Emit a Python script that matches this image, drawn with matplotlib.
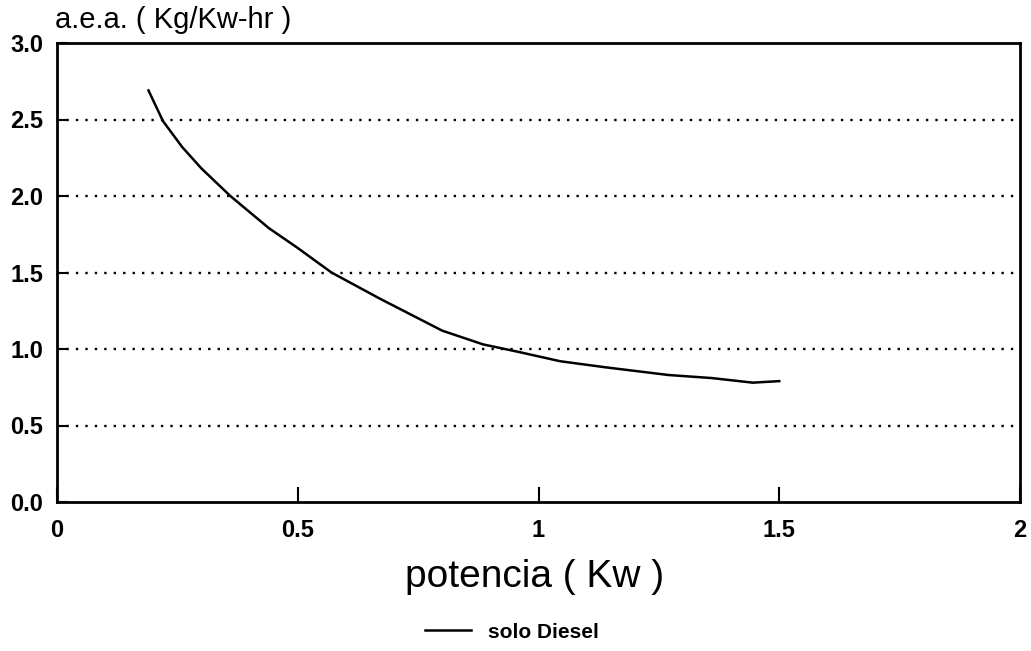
import matplotlib
matplotlib.use("Agg")
import matplotlib.pyplot as plt

# potencia (Kw) vs a.e.a. (Kg/Kw-hr)
potencia = [0.19, 0.22, 0.26, 0.30, 0.36, 0.44, 0.50, 0.57, 0.67, 0.80,
            0.885, 0.96, 1.045, 1.14, 1.27, 1.36, 1.445, 1.50]
aea = [2.69, 2.49, 2.32, 2.18, 2.00, 1.79, 1.66, 1.50, 1.33, 1.12,
       1.03, 0.98, 0.92, 0.88, 0.83, 0.81, 0.78, 0.79]

xticks = [0, 0.5, 1, 1.5, 2]
xlabels = ["0", "0.5", "1", "1.5", "2"]
yticks = [0.0, 0.5, 1.0, 1.5, 2.0, 2.5, 3.0]
ylabels = ["0.0", "0.5", "1.0", "1.5", "2.0", "2.5", "3.0"]

plt.rcParams['font.family'] = ['Liberation Sans', 'DejaVu Sans']

fig = plt.figure(figsize=(10.31, 6.51), dpi=100)
ax = fig.add_axes([57/1031, 1 - 502/651, (1020-57)/1031, (502-43)/651])

line, = ax.plot(potencia, aea, color='black', lw=1.8, label='solo Diesel')

ax.set_xlim(0, 2)
ax.set_ylim(0, 3)
ax.set_xticks(xticks)
ax.set_xticklabels(xlabels, fontsize=17, fontweight='bold')
ax.set_yticks(yticks)
ax.set_yticklabels(ylabels, fontsize=17, fontweight='bold')
ax.tick_params(axis='x', direction='in', length=11, width=1.5, pad=12)
ax.tick_params(axis='y', direction='in', length=8, width=1.5, pad=10)

# dotted horizontal grid
for yv in yticks[1:-1]:
    ax.axhline(yv, color='black', lw=1.7, ls=(0, (1, 3)), zorder=0)

for s in ax.spines.values():
    s.set_linewidth(2)

fig.text(55/1031, 1 - 20/651, "a.e.a. ( Kg/Kw-hr )", fontsize=21,
         ha='left', va='center')
fig.text(405/1031, 1 - 577/651, "potencia ( Kw )", fontsize=28,
         ha='left', va='center')

ax.legend(handles=[line], loc='center', bbox_to_anchor=(512/1031, 1 - 632/651),
          bbox_transform=fig.transFigure, frameon=False, handlelength=2.2,
          prop={'size': 15, 'weight': 'bold'})

fig.savefig("out.png", dpi=100)
